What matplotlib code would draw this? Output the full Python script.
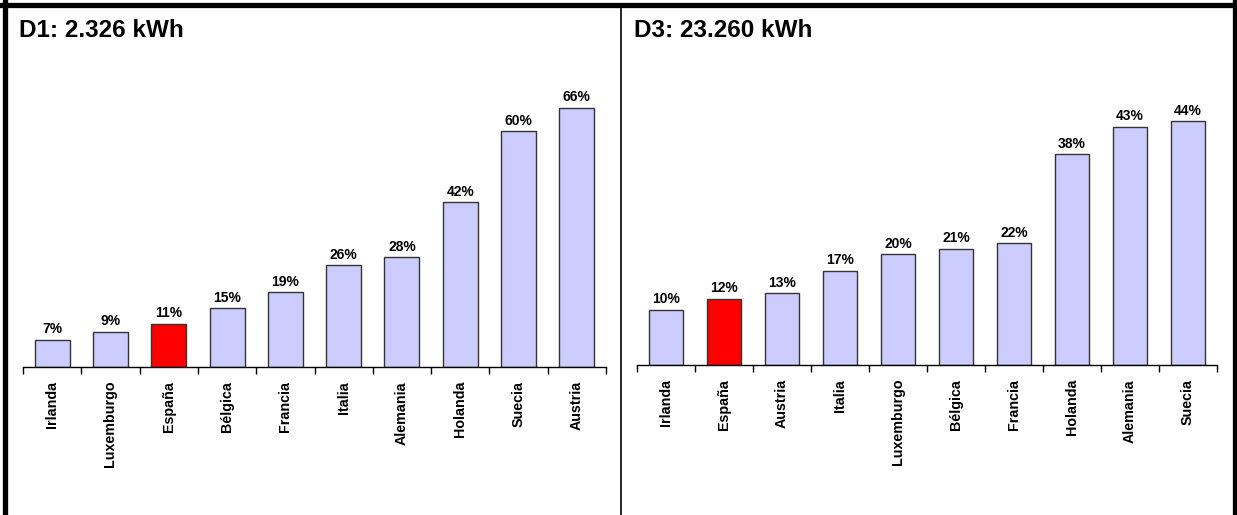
import matplotlib.pyplot as plt
from matplotlib.lines import Line2D

plt.rcParams['font.family'] = ['Liberation Sans', 'DejaVu Sans']

# D1 panel
d1_title = 'D1: 2.326 kWh'
d1_countries = ['Irlanda', 'Luxemburgo', 'España', 'Bélgica', 'Francia',
                'Italia', 'Alemania', 'Holanda', 'Suecia', 'Austria']
d1_values = [7, 9, 11, 15, 19, 26, 28, 42, 60, 66]

# D3 panel
d3_title = 'D3: 23.260 kWh'
d3_countries = ['Irlanda', 'España', 'Austria', 'Italia', 'Luxemburgo',
                'Bélgica', 'Francia', 'Holanda', 'Alemania', 'Suecia']
d3_values = [10, 12, 13, 17, 20, 21, 22, 38, 43, 44]

highlight = 'España'


def draw_panel(ax, countries, values, ymax):
    colors = ['#ff0000' if c == highlight else '#ccccff' for c in countries]
    x = range(len(countries))
    ax.bar(x, values, width=0.6, color=colors, edgecolor='#333333', linewidth=1)
    for i, v in enumerate(values):
        ax.text(i, v + ymax * 0.012, f'{v}%', ha='center', va='bottom',
                fontsize=10, fontweight='bold')
    ax.set_xlim(-0.5, len(countries) - 0.5)
    ax.set_ylim(0, ymax)
    ax.set_yticks([])
    for s in ['top', 'right', 'left']:
        ax.spines[s].set_visible(False)
    ax.spines['bottom'].set_linewidth(1)
    ax.set_xticks(list(x))
    ax.set_xticklabels(countries, rotation=90, fontsize=10.3, fontweight='bold')
    ax.tick_params(axis='x', which='major', length=0, pad=10)
    ax.set_xticks([i - 0.5 for i in range(len(countries) + 1)], minor=True)
    ax.tick_params(axis='x', which='minor', length=5, width=1, direction='out')


fig = plt.figure(figsize=(12.37, 5.15), dpi=100)

ax1 = fig.add_axes([23 / 1237, 148 / 515, 583 / 1237, 275 / 515])
draw_panel(ax1, d1_countries, d1_values, 70)

ax2 = fig.add_axes([637 / 1237, 150 / 515, 580 / 1237, 277 / 515])
draw_panel(ax2, d3_countries, d3_values, 50)

fig.text(19 / 1237, 1 - 37 / 515, d1_title, fontsize=17.5, fontweight='bold', va='baseline')
fig.text(634 / 1237, 1 - 37 / 515, d3_title, fontsize=17.5, fontweight='bold', va='baseline')

# frame around the panels
W, H = 1237, 515
def fline(x0, y0, x1, y1, lw):
    fig.add_artist(Line2D([x0 / W, x1 / W], [1 - y0 / H, 1 - y1 / H],
                          color='black', linewidth=lw, transform=fig.transFigure))

fline(4.5, 0, 4.5, 515, 3.8)
fline(0, 5, 1237, 5, 3.8)
fline(1234.5, 0, 1234.5, 515, 3.8)
fline(621, 5, 621, 515, 1.2)

fig.savefig('out.png', dpi=100)
